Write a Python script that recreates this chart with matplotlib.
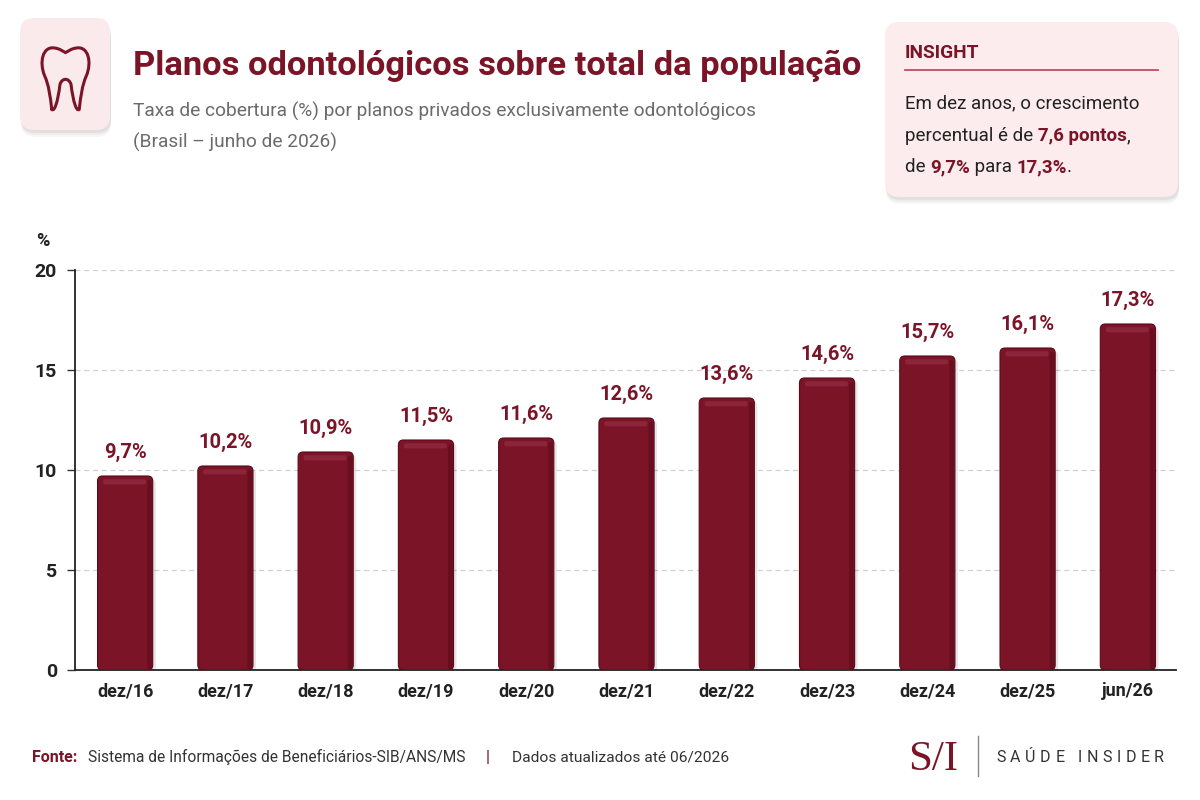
import numpy as np
import matplotlib.pyplot as plt
from matplotlib import font_manager
from matplotlib.patches import FancyBboxPatch, PathPatch
from matplotlib.path import Path

# Dados
categorias = ['dez/16', 'dez/17', 'dez/18', 'dez/19', 'dez/20', 'dez/21',
              'dez/22', 'dez/23', 'dez/24', 'dez/25', 'jun/26']
taxa = [9.7, 10.2, 10.9, 11.5, 11.6, 12.6, 13.6, 14.6, 15.7, 16.1, 17.3]
rotulos = ['9,7%', '10,2%', '10,9%', '11,5%', '11,6%', '12,6%',
           '13,6%', '14,6%', '15,7%', '16,1%', '17,3%']
yticks = [0, 5, 10, 15, 20]

VINHO = '#7a1426'
VINHO_ESCURO = '#5a0a18'
CINZA = '#6b6b6b'
TEXTO = '#222222'

instaladas = {f.name for f in font_manager.fontManager.ttflist}
ESTREITA = 'Liberation Sans Narrow' if 'Liberation Sans Narrow' in instaladas else 'Roboto'
FONTE = 'Roboto'
SERIFA = 'Liberation Serif' if 'Liberation Serif' in instaladas else 'DejaVu Serif'
plt.rcParams['font.family'] = [FONTE, 'DejaVu Sans']

fig = plt.figure(figsize=(12, 8), dpi=100)
fig.patch.set_facecolor('white')
r = fig.canvas.get_renderer()

# camada de decoração em pixels (y para baixo)
deco = fig.add_axes([0, 0, 1, 1], zorder=0)
deco.set_xlim(0, 1200)
deco.set_ylim(800, 0)
deco.axis('off')


def largura(t):
    return t.get_window_extent(renderer=r).width


def texto_ajustado(x, y, s, w_alvo, **kw):
    t = deco.text(x, y, s, va='baseline', **kw)
    w = largura(t)
    t.set_fontsize(t.get_fontsize() * w_alvo / w)
    return t


def avanco(s, **kw):
    a = deco.text(0, 0, s + '|', **kw)
    b = deco.text(0, 0, '|', **kw)
    w = largura(a) - largura(b)
    a.remove()
    b.remove()
    return w


def texto_rico(x, y, partes, size):
    for s, negrito, cor in partes:
        kw = dict(fontsize=size, fontweight='bold' if negrito else 'normal', color=cor)
        deco.text(x, y, s, va='baseline', **kw)
        x += avanco(s, **kw)


def caixa(x, y, w, h, raio, cor):
    for d, a in [(7, 0.03), (5, 0.04), (3, 0.05)]:
        deco.add_patch(FancyBboxPatch((x + 1, y + d), w, h, boxstyle=f'round,pad=0,rounding_size={raio}',
                                      fc='#000000', ec='none', alpha=a))
    deco.add_patch(FancyBboxPatch((x, y), w, h, boxstyle=f'round,pad=0,rounding_size={raio}',
                                  fc=cor, ec='none'))


# ícone do dente
caixa(20, 18, 90, 112, 14, '#fbeaec')
dente = [
    ((0.25, 0.04), Path.MOVETO),
    ((0.22, 0.25), Path.CURVE4), ((0.20, 0.40), Path.CURVE4), ((0.12, 0.55), Path.CURVE4),
    ((0.02, 0.75), Path.CURVE4), ((0.08, 1.00), Path.CURVE4), ((0.30, 0.97), Path.CURVE4),
    ((0.40, 0.96), Path.CURVE4), ((0.45, 0.92), Path.CURVE4), ((0.50, 0.90), Path.CURVE4),
    ((0.55, 0.92), Path.CURVE4), ((0.60, 0.96), Path.CURVE4), ((0.70, 0.97), Path.CURVE4),
    ((0.92, 1.00), Path.CURVE4), ((0.98, 0.75), Path.CURVE4), ((0.88, 0.55), Path.CURVE4),
    ((0.80, 0.40), Path.CURVE4), ((0.78, 0.25), Path.CURVE4), ((0.75, 0.04), Path.CURVE4),
    ((0.70, 0.00), Path.CURVE4), ((0.64, 0.15), Path.CURVE4), ((0.60, 0.42), Path.CURVE4),
    ((0.56, 0.52), Path.CURVE4), ((0.44, 0.52), Path.CURVE4), ((0.40, 0.42), Path.CURVE4),
    ((0.36, 0.15), Path.CURVE4), ((0.30, 0.00), Path.CURVE4), ((0.25, 0.04), Path.CURVE4),
]
verts = [(38 + u * 55, 112 - v * 66) for (u, v), _ in dente]
codes = [c for _, c in dente]
deco.add_patch(PathPatch(Path(verts, codes), fc='none', ec=VINHO, lw=2.2, capstyle='round'))

# título e subtítulo
texto_ajustado(133, 75, 'Planos odontológicos sobre total da população', 727,
               fontsize=30, fontweight='bold', color=VINHO, family=[ESTREITA, 'DejaVu Sans'])
sub1 = texto_ajustado(133, 117, 'Taxa de cobertura (%) por planos privados exclusivamente odontológicos', 624,
                      fontsize=13, color=CINZA, family=[ESTREITA, 'DejaVu Sans'])
deco.text(133, 148, '(Brasil – junho de 2026)', va='baseline', color=CINZA,
          fontsize=sub1.get_fontsize(), family=[ESTREITA, 'DejaVu Sans'])

# caixa de insight
caixa(885, 22, 293, 175, 14, '#fcecee')
deco.text(905, 58, 'INSIGHT', va='baseline', fontsize=13.8, fontweight='bold', color=VINHO)
deco.plot([905, 1158], [70, 70], color='#b8505f', lw=1.3)
texto_rico(905, 108, [('Em dez anos, o crescimento', False, TEXTO)], 13.5)
texto_rico(905, 141, [('percentual é de ', False, TEXTO), ('7,6 pontos', True, VINHO),
                      (',', False, TEXTO)], 13.5)
texto_rico(905, 172, [('de ', False, TEXTO), ('9,7%', True, VINHO), (' para ', False, TEXTO),
                      ('17,3%', True, VINHO), ('.', False, TEXTO)], 13.5)

# gráfico
ax = fig.add_axes([75 / 1200, 1 - 670 / 800, 1101 / 1200, 400 / 800], zorder=1)
ax.patch.set_alpha(0)
x = np.arange(len(categorias))
barras = ax.bar(x, taxa, width=0.55, color=VINHO, zorder=3)
for b in barras:
    bx, bw, bh = b.get_x(), b.get_width(), b.get_height()
    b.set_visible(False)
    # sombra
    ax.add_patch(FancyBboxPatch((bx + 0.03, -0.15), bw, bh, boxstyle='round,pad=0,rounding_size=0.05',
                                mutation_aspect=5, fc='#000000', ec='none', alpha=0.10, zorder=2))
    # corpo
    ax.add_patch(FancyBboxPatch((bx, 0), bw, bh, boxstyle='round,pad=0,rounding_size=0.05',
                                mutation_aspect=5, fc=VINHO, ec=VINHO_ESCURO, lw=0.8, zorder=3))
    # lateral direita mais escura
    ax.add_patch(FancyBboxPatch((bx + bw * 0.90, 0.05), bw * 0.08, bh - 0.25,
                                boxstyle='round,pad=0,rounding_size=0.02', mutation_aspect=5,
                                fc=VINHO_ESCURO, ec='none', alpha=0.55, zorder=4))
    # brilho no topo
    ax.add_patch(FancyBboxPatch((bx + bw * 0.10, bh - 0.42), bw * 0.78, 0.26,
                                boxstyle='round,pad=0,rounding_size=0.02', mutation_aspect=5,
                                fc='#b04560', ec='none', alpha=0.35, zorder=4))

for xi, v, rot in zip(x, taxa, rotulos):
    ax.text(xi, v + 0.7, rot, ha='center', va='bottom', fontsize=14.5, fontweight='bold',
            color=VINHO, zorder=5)

ax.set_xlim(-0.5, 10.48)
ax.set_ylim(0, 20)
ax.set_yticks(yticks)
ax.set_yticklabels([str(t) for t in yticks], fontsize=14, fontweight='bold', color=TEXTO)
ax.set_xticks(x)
ax.set_xticklabels(categorias, fontsize=13, fontweight='bold', color=TEXTO)
ax.tick_params(axis='x', length=0, pad=9)
ax.tick_params(axis='y', length=6, width=1, color='#333333', pad=7)
ax.grid(axis='y', linestyle=(0, (4, 3)), color='#d0d0d0', lw=0.9, zorder=0)
ax.set_axisbelow(True)
for lado in ['top', 'right']:
    ax.spines[lado].set_visible(False)
for lado in ['left', 'bottom']:
    ax.spines[lado].set_color('#222222')
    ax.spines[lado].set_linewidth(1.3)
deco.text(36, 246, '%', va='baseline', fontsize=13, fontweight='bold', color=TEXTO)

# rodapé
deco.text(32, 762, 'Fonte:', va='baseline', fontsize=11.5, fontweight='bold', color=VINHO,
          family=[ESTREITA, 'DejaVu Sans'])
texto_ajustado(88, 762, 'Sistema de Informações de Beneficiários-SIB/ANS/MS', 375,
               fontsize=11, color='#333333', family=[ESTREITA, 'DejaVu Sans'])
deco.text(486, 762, '|', va='baseline', fontsize=12, color=VINHO)
texto_ajustado(512, 762, 'Dados atualizados até 06/2026', 215,
               fontsize=11, color='#333333', family=[ESTREITA, 'DejaVu Sans'])

# logotipo
deco.text(908, 770, 'S/I', va='baseline', fontsize=31, color=VINHO, family=SERIFA)
deco.plot([978, 978], [736, 776], color='#888888', lw=1.0)
xl = 996
for ch in 'SAÚDE INSIDER':
    kw = dict(fontsize=11.5, color='#333333')
    deco.text(xl, 762, ch, va='baseline', **kw)
    xl += avanco(ch, **kw) + 4.6

fig.savefig('out.png', dpi=100)
